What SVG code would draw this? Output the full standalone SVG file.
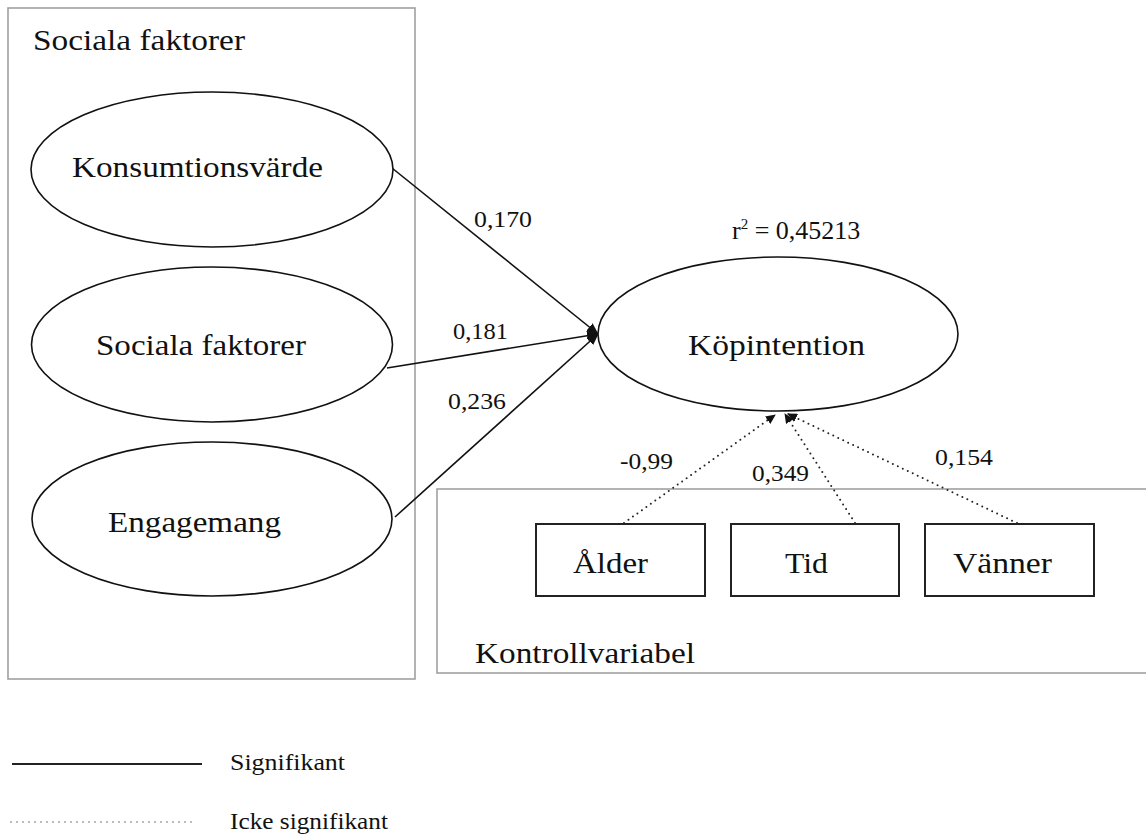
<svg xmlns="http://www.w3.org/2000/svg" width="1146" height="840" viewBox="0 0 1146 840">
<style>
  text { font-family: "Liberation Serif", "Times New Roman", serif; fill: #111; }
  .big { font-size: 29px; }
  .num { font-size: 23px; }
  .leg { font-size: 23px; }
  .frame { fill: none; stroke: #a0a0a0; stroke-width: 1.6; }
  .node { fill: #fff; stroke: #111; stroke-width: 1.6; }
  .box { fill: #fff; stroke: #222; stroke-width: 2; }
  .solid { stroke: #111; stroke-width: 1.6; fill: none; }
  .dotted { stroke: #222; stroke-width: 2; fill: none; stroke-dasharray: 0 5.5; stroke-linecap: round; }
</style>
<defs>
  <marker id="arr" viewBox="0 0 12 10" refX="11" refY="5" markerWidth="12" markerHeight="10" markerUnits="userSpaceOnUse" orient="auto">
    <path d="M0,0 L12,5 L0,10 z" fill="#111"/>
  </marker>
  <marker id="arrs" viewBox="0 0 10 9" refX="9" refY="4.5" markerWidth="10" markerHeight="9" markerUnits="userSpaceOnUse" orient="auto">
    <path d="M0,0 L10,4.5 L0,9 z" fill="#111"/>
  </marker>
</defs>
<rect width="1146" height="840" fill="#fff"/>

<g id="group-sociala">
  <rect class="frame" x="8" y="8" width="407" height="671"/>
  <text class="big" x="33" y="50" textLength="212" lengthAdjust="spacingAndGlyphs">Sociala faktorer</text>
</g>
<g id="group-kontroll">
  <rect class="frame" x="437" y="489" width="720" height="184"/>
  <text class="big" x="475" y="663" textLength="220" lengthAdjust="spacingAndGlyphs">Kontrollvariabel</text>
</g>

<g id="connectors">
  <line class="solid" x1="392" y1="168" x2="598" y2="334" marker-end="url(#arr)"/>
  <line class="solid" x1="387" y1="368" x2="598" y2="334" marker-end="url(#arr)"/>
  <line class="solid" x1="395" y1="517" x2="598" y2="334" marker-end="url(#arr)"/>
  <line class="dotted" x1="624" y1="523" x2="775" y2="415" marker-end="url(#arrs)"/>
  <line class="dotted" x1="855" y1="523" x2="785" y2="414" marker-end="url(#arrs)"/>
  <line class="dotted" x1="1017" y1="523" x2="788" y2="414" marker-end="url(#arrs)"/>
  <text class="num" x="474" y="227" textLength="58" lengthAdjust="spacingAndGlyphs">0,170</text>
  <text class="num" x="453" y="339" textLength="55" lengthAdjust="spacingAndGlyphs">0,181</text>
  <text class="num" x="448" y="409" textLength="58" lengthAdjust="spacingAndGlyphs">0,236</text>
  <text class="num" x="620" y="469" textLength="53" lengthAdjust="spacingAndGlyphs">-0,99</text>
  <text class="num" x="752" y="481" textLength="57" lengthAdjust="spacingAndGlyphs">0,349</text>
  <text class="num" x="935" y="465" textLength="58" lengthAdjust="spacingAndGlyphs">0,154</text>
</g>

<g id="node-konsumtionsvarde">
  <ellipse class="node" cx="212" cy="169.5" rx="181" ry="77.5"/>
  <text class="big" x="72" y="177" textLength="251" lengthAdjust="spacingAndGlyphs">Konsumtionsvärde</text>
</g>
<g id="node-sociala-faktorer">
  <ellipse class="node" cx="212" cy="344.5" rx="180.5" ry="77.5"/>
  <text class="big" x="96" y="355" textLength="210" lengthAdjust="spacingAndGlyphs">Sociala faktorer</text>
</g>
<g id="node-engagemang">
  <ellipse class="node" cx="212" cy="519" rx="180" ry="77"/>
  <text class="big" x="108" y="532" textLength="173" lengthAdjust="spacingAndGlyphs">Engagemang</text>
</g>
<g id="node-kopintention">
  <ellipse class="node" cx="778" cy="334" rx="180" ry="77"/>
  <text class="big" x="688" y="355" textLength="177" lengthAdjust="spacingAndGlyphs">Köpintention</text>
  <text class="big" x="732" y="239" style="font-size:26px">r<tspan dy="-10" style="font-size:15px">2</tspan><tspan dy="10"> = 0,45213</tspan></text>
</g>
<g id="node-alder">
  <rect class="box" x="536" y="524" width="169" height="72"/>
  <text class="big" x="573" y="573" textLength="75" lengthAdjust="spacingAndGlyphs">Ålder</text>
</g>
<g id="node-tid">
  <rect class="box" x="731" y="524" width="168" height="72"/>
  <text class="big" x="785" y="573" textLength="43" lengthAdjust="spacingAndGlyphs">Tid</text>
</g>
<g id="node-vanner">
  <rect class="box" x="925" y="524" width="169" height="72"/>
  <text class="big" x="953" y="573" textLength="99" lengthAdjust="spacingAndGlyphs">Vänner</text>
</g>

<g id="legend">
  <line x1="12" y1="764" x2="202" y2="764" stroke="#222" stroke-width="2"/>
  <text class="leg" x="230" y="770" textLength="115" lengthAdjust="spacingAndGlyphs">Signifikant</text>
  <line x1="11" y1="822" x2="196" y2="822" stroke="#555" stroke-width="1.5" stroke-dasharray="0 6" stroke-linecap="round"/>
  <text class="leg" x="230" y="829" textLength="158" lengthAdjust="spacingAndGlyphs">Icke signifikant</text>
</g>
</svg>
